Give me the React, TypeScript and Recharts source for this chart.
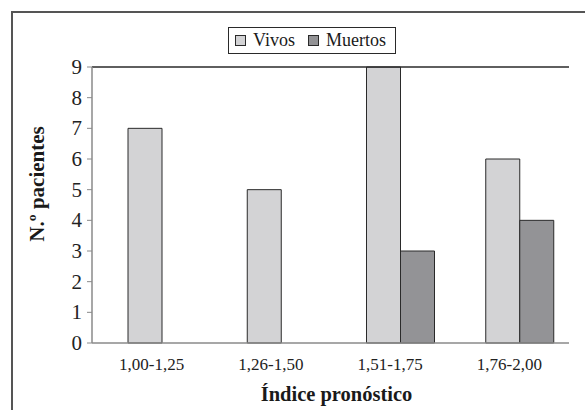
import React from 'react';
import { ComposedChart, Bar, XAxis, YAxis, Legend, ReferenceLine } from 'recharts';

// rangos del índice pronóstico
const rangos = ['1,00-1,25', '1,26-1,50', '1,51-1,75', '1,76-2,00'];
const vivos = [7, 5, 9, 6];
const muertos = [0, 0, 3, 4];
const yTicks = [0, 1, 2, 3, 4, 5, 6, 7, 8, 9];
const limites = [0, 1, 2, 3, 4];
const series = ['Vivos', 'Muertos'];

const data = rangos.map((r, i) => ({ rango: r, vivos: vivos[i], muertos: muertos[i] }));

const FONT = '"Liberation Serif", "Times New Roman", serif';
const AXIS = '#8a8a8a';
const DARK = '#2a2a2a';

function YTitle(props: any) {
    const vb = props.viewBox;
    const cx = vb.x + 17;
    const cy = vb.y + vb.height / 2 - 21;
    return (
        <text
            x={cx}
            y={cy}
            transform={`rotate(-90 ${cx} ${cy})`}
            textAnchor="middle"
            dominantBaseline="central"
            style={{ fontFamily: FONT, fontWeight: 700, fontSize: 21 }}
            fill="#1a1a1a"
        >
            N.º pacientes
        </text>
    );
}

function XTitle(props: any) {
    const vb = props.viewBox;
    return (
        <text
            x={vb.x + vb.width / 2 + 6}
            y={vb.y + 51}
            textAnchor="middle"
            dominantBaseline="central"
            style={{ fontFamily: FONT, fontWeight: 700, fontSize: 20.5 }}
            fill="#1a1a1a"
        >
            Índice pronóstico
        </text>
    );
}

// etiqueta de eje en SVG con la fuente serif
function TickText(props: any) {
    const { x, y, payload, textAnchor, size, dy } = props;
    return (
        <text
            x={x}
            y={y}
            dy={dy}
            textAnchor={textAnchor}
            dominantBaseline={props.baseline}
            style={{ fontFamily: FONT, fontWeight: 400, fontSize: size }}
            fill="#222"
        >
            {payload.value}
        </text>
    );
}

function LegendBox(props: any) {
    const items = [...(props.payload || [])].sort(
        (a: any, b: any) => series.indexOf(a.value) - series.indexOf(b.value)
    );
    return (
        <div style={{ textAlign: 'left', paddingLeft: 208, paddingBottom: 13, lineHeight: 'normal' }}>
            <div
                style={{
                    display: 'inline-flex',
                    alignItems: 'center',
                    boxSizing: 'border-box',
                    height: 27,
                    padding: '0 9px 0 6px',
                    border: `1px solid ${DARK}`,
                    fontFamily: FONT,
                    fontWeight: 400,
                    fontSize: 18,
                    color: '#1a1a1a',
                    background: '#fff',
                }}
            >
                {items.map((it: any, i: number) => (
                    <span key={i} style={{ display: 'inline-flex', alignItems: 'center', marginLeft: i ? 13 : 0 }}>
                        <span
                            style={{
                                display: 'inline-block',
                                width: 9,
                                height: 9,
                                background: it.color,
                                border: `1px solid ${DARK}`,
                                marginRight: 7,
                            }}
                        />
                        {it.value}
                    </span>
                ))}
            </div>
        </div>
    );
}

export default function App() {
    return (
        <div style={{ position: 'absolute', left: 0, top: 0, width: 585, height: 410, overflow: 'hidden', background: '#fff', fontFamily: FONT }}>
            <div
                style={{
                    position: 'absolute',
                    left: 11,
                    top: 11,
                    width: 700,
                    height: 500,
                    border: '2px solid #555',
                }}
            />
            <div style={{ position: 'absolute', left: 0, top: 0 }}>
                <ComposedChart
                    width={585}
                    height={410}
                    data={data}
                    margin={{ top: 27, right: 16, left: 20, bottom: 0 }}
                    barGap={0}
                    style={{ fontFamily: FONT }}
                >
                    <Legend verticalAlign="top" align="left" content={<LegendBox />} />
                    <XAxis xAxisId="barras" dataKey="rango" hide height={0} padding={{ left: 10, right: -10 }} />
                    <XAxis
                        xAxisId="limites"
                        type="number"
                        domain={[0, 4]}
                        ticks={limites}
                        allowDataOverflow
                        height={0}
                        tick={false}
                        axisLine={false}
                        tickLine={{ stroke: AXIS }}
                        tickSize={6}
                    />
                    <XAxis
                        xAxisId="cat"
                        dataKey="rango"
                        height={67}
                        tickLine={false}
                        axisLine={{ stroke: AXIS, strokeWidth: 1.5 }}
                        tickSize={6}
                        tickMargin={8}
                        tick={<TickText size={17} dy={13} />}
                        interval={0}
                        label={<XTitle />}
                    />
                    <YAxis
                        domain={[0, 9]}
                        ticks={yTicks}
                        interval={0}
                        width={72}
                        tickSize={5}
                        tickMargin={5}
                        axisLine={{ stroke: AXIS, strokeWidth: 1.5 }}
                        tickLine={{ stroke: AXIS }}
                        tick={<TickText size={21} baseline="central" />}
                        label={<YTitle />}
                    />
                    <ReferenceLine y={9} xAxisId="cat" stroke={DARK} strokeWidth={1.3} />
                    <ReferenceLine x={4} xAxisId="limites" stroke={DARK} strokeWidth={1.3} />
                    <Bar
                        xAxisId="barras"
                        dataKey="vivos"
                        name="Vivos"
                        fill="#d3d3d5"
                        stroke={DARK}
                        strokeWidth={1}
                        barSize={34}
                        isAnimationActive={false}
                    />
                    <Bar
                        xAxisId="barras"
                        dataKey="muertos"
                        name="Muertos"
                        fill="#939396"
                        stroke={DARK}
                        strokeWidth={1}
                        barSize={34}
                        isAnimationActive={false}
                    />
                </ComposedChart>
            </div>
        </div>
    );
}
